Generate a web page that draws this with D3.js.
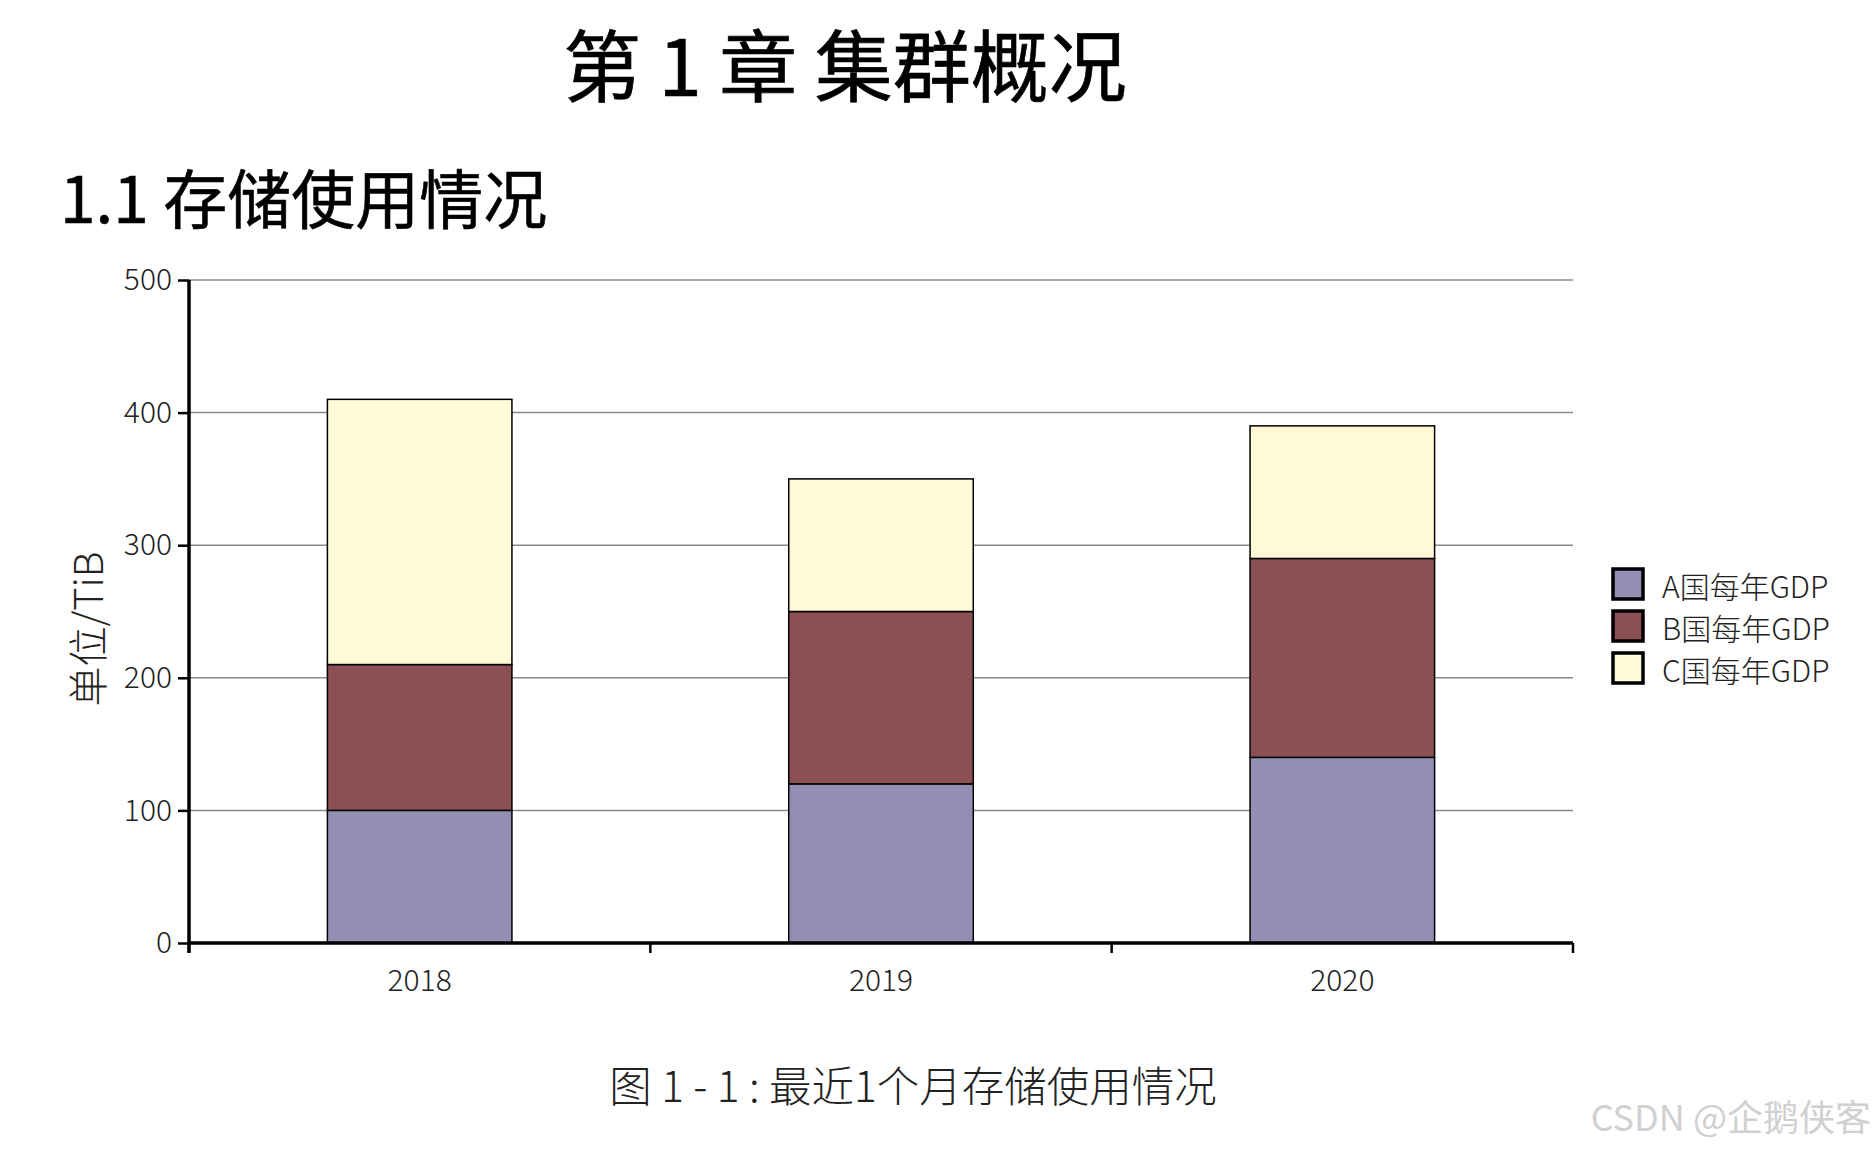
<!DOCTYPE html>
<html>
<head>
<meta charset="utf-8">
<script src="https://cdn.jsdelivr.net/npm/d3@7"></script>
<style>
  body { margin: 0; background: #fff; }
  text { font-family: "Noto Sans CJK SC", "Noto Sans", sans-serif; }
</style>
</head>
<body>
<div id="chart"></div>
<script>
// data
var years = ["2018", "2019", "2020"];
var seriesNames = ["A国每年GDP", "B国每年GDP", "C国每年GDP"];
var aValues = [100, 120, 140];
var bValues = [110, 130, 150];
var cValues = [200, 100, 100];
var yTicks = [0, 100, 200, 300, 400, 500];

var config = {
    colors: ["#938fb4", "#8b4f54", "#fffad5"],
    grid: "#8a8a8a",
    width: 1874,
    height: 1150,
    plot: { left: 189, right: 1573, top: 280, bottom: 943 }
};

var rows = years.map(function (y, i) {
    return { year: y, a: aValues[i], b: bValues[i], c: cValues[i] };
});
var stack = d3.stack().keys(["a", "b", "c"])(rows);

var svg = d3.select("#chart").append("svg")
    .attr("width", config.width)
    .attr("height", config.height);

var x = d3.scaleBand()
    .domain(years)
    .range([config.plot.left, config.plot.right])
    .paddingInner(0).paddingOuter(0);

var y = d3.scaleLinear()
    .domain([0, 500])
    .range([config.plot.bottom, config.plot.top]);

// titles
svg.append("text")
    .attr("x", 845).attr("y", 96)
    .attr("text-anchor", "middle")
    .attr("font-size", 78)
    .attr("font-weight", 400)
    .attr("stroke", "#000").attr("stroke-width", 0.7)
    .text("第 1 章 集群概况");

svg.append("text")
    .attr("x", 60).attr("y", 223)
    .attr("font-size", 64)
    .attr("font-weight", 400)
    .attr("stroke", "#000").attr("stroke-width", 0.6)
    .text("1.1 存储使用情况");

// grid lines
svg.append("g").selectAll("line")
    .data(yTicks.filter(function (d) { return d > 0; }))
    .enter().append("line")
    .attr("x1", config.plot.left).attr("x2", config.plot.right)
    .attr("y1", function (d) { return y(d); })
    .attr("y2", function (d) { return y(d); })
    .attr("stroke", config.grid)
    .attr("stroke-width", 1.5);

// bars
var barW = x.bandwidth() * 0.4;
svg.append("g").selectAll("g")
    .data(stack)
    .enter().append("g")
    .attr("fill", function (d, i) { return config.colors[i]; })
    .selectAll("rect")
    .data(function (d) { return d; })
    .enter().append("rect")
    .attr("x", function (d) { return x(d.data.year) + (x.bandwidth() - barW) / 2; })
    .attr("y", function (d) { return y(d[1]); })
    .attr("width", barW)
    .attr("height", function (d) { return y(d[0]) - y(d[1]); })
    .attr("stroke", "#000")
    .attr("stroke-width", 1.5);

// y axis
var yAxis = svg.append("g")
    .attr("transform", "translate(" + config.plot.left + ",0)")
    .call(d3.axisLeft(y).tickValues(yTicks).tickSize(11).tickPadding(6));
yAxis.select(".domain").remove();
yAxis.selectAll(".tick line").attr("stroke", "#000").attr("stroke-width", 2.5);
yAxis.selectAll(".tick text")
    .attr("font-family", "'Noto Sans CJK SC', sans-serif")
    .attr("font-size", 30).attr("font-weight", 300).attr("fill", "#222");

// x axis
var xAxis = svg.append("g")
    .attr("transform", "translate(0," + config.plot.bottom + ")")
    .call(d3.axisBottom(x).tickSize(0).tickPadding(27));
xAxis.select(".domain").remove();
xAxis.selectAll(".tick text")
    .attr("font-family", "'Noto Sans CJK SC', sans-serif")
    .attr("font-size", 30).attr("font-weight", 300).attr("fill", "#222");

// x boundary ticks between the bands
var bounds = years.map(function (d) { return x(d); }).concat([config.plot.right]);
svg.append("g").selectAll("line")
    .data(bounds)
    .enter().append("line")
    .attr("x1", function (d) { return d; }).attr("x2", function (d) { return d; })
    .attr("y1", config.plot.bottom).attr("y2", config.plot.bottom + 10)
    .attr("stroke", "#000").attr("stroke-width", 2.5);

// axis lines
svg.append("line")
    .attr("x1", config.plot.left).attr("x2", config.plot.right)
    .attr("y1", config.plot.bottom).attr("y2", config.plot.bottom)
    .attr("stroke", "#000").attr("stroke-width", 3.5);
svg.append("line")
    .attr("x1", config.plot.left).attr("x2", config.plot.left)
    .attr("y1", config.plot.top).attr("y2", config.plot.bottom + 10)
    .attr("stroke", "#000").attr("stroke-width", 3.5);

// y label
svg.append("text")
    .attr("transform", "translate(103,629) rotate(-90)")
    .attr("text-anchor", "middle")
    .attr("font-size", 40).attr("font-weight", 300)
    .attr("fill", "#222")
    .text("单位/TiB");

// legend
var legend = svg.append("g").selectAll("g")
    .data(seriesNames)
    .enter().append("g")
    .attr("transform", function (d, i) { return "translate(1613," + (569 + i * 42) + ")"; });
legend.append("rect")
    .attr("width", 30).attr("height", 30)
    .attr("fill", function (d, i) { return config.colors[i]; })
    .attr("stroke", "#000").attr("stroke-width", 3.5);
legend.append("text")
    .attr("x", 49).attr("y", 29)
    .attr("font-size", 30).attr("font-weight", 300)
    .attr("fill", "#222")
    .text(function (d) { return d; });

// caption
svg.append("text")
    .attr("x", 913).attr("y", 1102)
    .attr("text-anchor", "middle")
    .attr("font-size", 42.5).attr("font-weight", 300)
    .attr("fill", "#222")
    .text("图 1 - 1 : 最近1个月存储使用情况");

// watermark
svg.append("text")
    .attr("x", 1871).attr("y", 1131)
    .attr("text-anchor", "end")
    .attr("font-size", 36)
    .attr("fill", "#d0d0d0")
    .text("CSDN @企鹅侠客");
</script>
</body>
</html>
